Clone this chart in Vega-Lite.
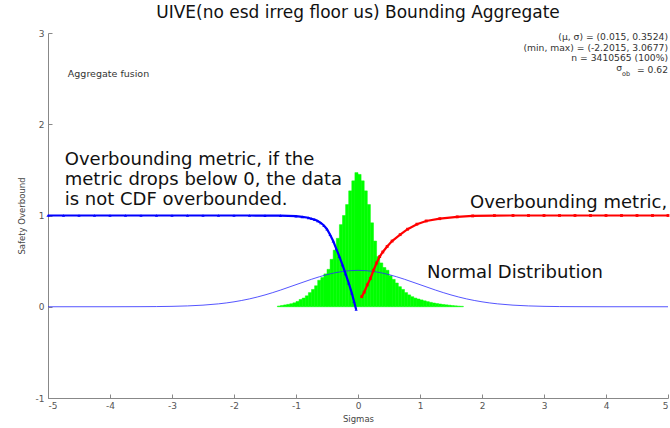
{
  "$schema": "https://vega.github.io/schema/vega-lite/v6.json",
  "width": 620,
  "height": 365,
  "autosize": "none",
  "padding": {"left": 48, "top": 33, "right": 2, "bottom": 30},
  "background": "white",
  "title": {
    "text": "UIVE(no esd irreg floor us) Bounding Aggregate",
    "font": "DejaVu Sans",
    "fontSize": 17,
    "fontWeight": "normal",
    "color": "#111111",
    "baseline": "alphabetic",
    "offset": -6,
    "anchor": "middle"
  },
  "config": {
    "view": {"stroke": null},
    "axis": {
      "labelFont": "DejaVu Sans",
      "labelFontSize": 9,
      "labelColor": "#555555",
      "titleFont": "DejaVu Sans",
      "titleFontSize": 8.5,
      "titleFontWeight": "normal",
      "titleColor": "#444444",
      "domainColor": "#888888",
      "tickColor": "#888888",
      "grid": false
    }
  },
  "layer": [
    {
      "data": {"values": [
        {"x": -1.30, "xe": -1.25, "y": 0.008},
        {"x": -1.25, "xe": -1.20, "y": 0.014},
        {"x": -1.20, "xe": -1.15, "y": 0.02},
        {"x": -1.15, "xe": -1.10, "y": 0.026},
        {"x": -1.10, "xe": -1.05, "y": 0.033},
        {"x": -1.05, "xe": -1.00, "y": 0.043},
        {"x": -1.00, "xe": -0.95, "y": 0.058},
        {"x": -0.95, "xe": -0.90, "y": 0.08},
        {"x": -0.90, "xe": -0.85, "y": 0.095},
        {"x": -0.85, "xe": -0.80, "y": 0.12},
        {"x": -0.80, "xe": -0.75, "y": 0.155},
        {"x": -0.75, "xe": -0.70, "y": 0.19},
        {"x": -0.70, "xe": -0.65, "y": 0.23},
        {"x": -0.65, "xe": -0.60, "y": 0.29},
        {"x": -0.60, "xe": -0.55, "y": 0.32},
        {"x": -0.55, "xe": -0.50, "y": 0.36},
        {"x": -0.50, "xe": -0.45, "y": 0.41},
        {"x": -0.45, "xe": -0.40, "y": 0.52},
        {"x": -0.40, "xe": -0.35, "y": 0.62},
        {"x": -0.35, "xe": -0.30, "y": 0.75},
        {"x": -0.30, "xe": -0.25, "y": 0.9},
        {"x": -0.25, "xe": -0.20, "y": 1.0},
        {"x": -0.20, "xe": -0.15, "y": 1.12},
        {"x": -0.15, "xe": -0.10, "y": 1.27},
        {"x": -0.10, "xe": -0.05, "y": 1.38},
        {"x": -0.05, "xe": 0.00, "y": 1.47},
        {"x": 0.00, "xe": 0.05, "y": 1.45},
        {"x": 0.05, "xe": 0.10, "y": 1.38},
        {"x": 0.10, "xe": 0.15, "y": 1.27},
        {"x": 0.15, "xe": 0.20, "y": 1.12},
        {"x": 0.20, "xe": 0.25, "y": 0.92},
        {"x": 0.25, "xe": 0.30, "y": 0.72},
        {"x": 0.30, "xe": 0.35, "y": 0.55},
        {"x": 0.35, "xe": 0.40, "y": 0.48},
        {"x": 0.40, "xe": 0.45, "y": 0.43},
        {"x": 0.45, "xe": 0.50, "y": 0.40},
        {"x": 0.50, "xe": 0.55, "y": 0.34},
        {"x": 0.55, "xe": 0.60, "y": 0.30},
        {"x": 0.60, "xe": 0.65, "y": 0.26},
        {"x": 0.65, "xe": 0.70, "y": 0.22},
        {"x": 0.70, "xe": 0.75, "y": 0.19},
        {"x": 0.75, "xe": 0.80, "y": 0.155},
        {"x": 0.80, "xe": 0.85, "y": 0.13},
        {"x": 0.85, "xe": 0.90, "y": 0.11},
        {"x": 0.90, "xe": 0.95, "y": 0.095},
        {"x": 0.95, "xe": 1.00, "y": 0.085},
        {"x": 1.00, "xe": 1.05, "y": 0.075},
        {"x": 1.05, "xe": 1.10, "y": 0.065},
        {"x": 1.10, "xe": 1.15, "y": 0.056},
        {"x": 1.15, "xe": 1.20, "y": 0.048},
        {"x": 1.20, "xe": 1.25, "y": 0.041},
        {"x": 1.25, "xe": 1.30, "y": 0.035},
        {"x": 1.30, "xe": 1.35, "y": 0.03},
        {"x": 1.35, "xe": 1.40, "y": 0.025},
        {"x": 1.40, "xe": 1.45, "y": 0.021},
        {"x": 1.45, "xe": 1.50, "y": 0.017},
        {"x": 1.50, "xe": 1.55, "y": 0.013},
        {"x": 1.55, "xe": 1.60, "y": 0.01},
        {"x": 1.60, "xe": 1.65, "y": 0.007},
        {"x": 1.65, "xe": 1.70, "y": 0.005}
      ]},
      "mark": {"type": "bar", "color": "#00ff00", "stroke": "#00ff00", "strokeWidth": 0.5},
      "encoding": {
        "x": {
          "field": "x", "type": "quantitative",
          "scale": {"domain": [-5, 5], "nice": false, "zero": false},
          "axis": {
            "title": "Sigmas",
            "values": [-5, -4, -3, -2, -1, 0, 1, 2, 3, 4, 5],
            "labelExpr": "'' + datum.value",
            "tickSize": -4,
            "labelPadding": 7,
            "titlePadding": 4
          }
        },
        "x2": {"field": "xe"},
        "y": {
          "field": "y", "type": "quantitative",
          "scale": {"domain": [-1, 3], "nice": false, "zero": false},
          "axis": {
            "title": "Safety Overbound",
            "values": [-1, 0, 1, 2, 3],
            "labelExpr": "'' + datum.value",
            "tickSize": -4,
            "labelPadding": 8,
            "titlePadding": 9
          }
        },
        "y2": {"datum": 0}
      }
    },
    {
      "data": {"values": [
        {"x": -5.0, "y": 0.0000015},
        {"x": -4.5, "y": 0.000016},
        {"x": -4.0, "y": 0.000134},
        {"x": -3.5, "y": 0.000873},
        {"x": -3.25, "y": 0.00203},
        {"x": -3.0, "y": 0.00443},
        {"x": -2.75, "y": 0.00909},
        {"x": -2.5, "y": 0.0175},
        {"x": -2.25, "y": 0.0317},
        {"x": -2.0, "y": 0.054},
        {"x": -1.75, "y": 0.0863},
        {"x": -1.5, "y": 0.1295},
        {"x": -1.25, "y": 0.1826},
        {"x": -1.0, "y": 0.242},
        {"x": -0.75, "y": 0.3011},
        {"x": -0.5, "y": 0.3521},
        {"x": -0.25, "y": 0.3867},
        {"x": 0.0, "y": 0.3989},
        {"x": 0.25, "y": 0.3867},
        {"x": 0.5, "y": 0.3521},
        {"x": 0.75, "y": 0.3011},
        {"x": 1.0, "y": 0.242},
        {"x": 1.25, "y": 0.1826},
        {"x": 1.5, "y": 0.1295},
        {"x": 1.75, "y": 0.0863},
        {"x": 2.0, "y": 0.054},
        {"x": 2.25, "y": 0.0317},
        {"x": 2.5, "y": 0.0175},
        {"x": 2.75, "y": 0.00909},
        {"x": 3.0, "y": 0.00443},
        {"x": 3.25, "y": 0.00203},
        {"x": 3.5, "y": 0.000873},
        {"x": 4.0, "y": 0.000134},
        {"x": 4.5, "y": 0.000016},
        {"x": 5.0, "y": 0.0000015}
      ]},
      "mark": {"type": "line", "color": "#2b2bff", "strokeWidth": 1, "opacity": 0.8, "interpolate": "monotone"},
      "encoding": {
        "x": {"field": "x", "type": "quantitative"},
        "y": {"field": "y", "type": "quantitative"}
      }
    },
    {
      "data": {"values": [
        {"x": -5.0, "y": 1.0}, {"x": -4.75, "y": 1.0}, {"x": -4.5, "y": 1.0}, {"x": -4.25, "y": 1.0},
        {"x": -4.0, "y": 1.0}, {"x": -3.75, "y": 1.0}, {"x": -3.5, "y": 1.0}, {"x": -3.25, "y": 1.0},
        {"x": -3.0, "y": 1.0}, {"x": -2.75, "y": 1.0}, {"x": -2.5, "y": 1.0}, {"x": -2.25, "y": 1.0},
        {"x": -2.0, "y": 1.0}, {"x": -1.75, "y": 1.0}, {"x": -1.5, "y": 0.999}, {"x": -1.25, "y": 0.998},
        {"x": -1.0, "y": 0.993}, {"x": -0.9, "y": 0.985}, {"x": -0.8, "y": 0.975}, {"x": -0.75, "y": 0.965},
        {"x": -0.7, "y": 0.955}, {"x": -0.65, "y": 0.94}, {"x": -0.6, "y": 0.92}, {"x": -0.55, "y": 0.89},
        {"x": -0.5, "y": 0.85}, {"x": -0.45, "y": 0.79}, {"x": -0.4, "y": 0.72}, {"x": -0.35, "y": 0.635},
        {"x": -0.3, "y": 0.55}, {"x": -0.25, "y": 0.46}, {"x": -0.2, "y": 0.36}, {"x": -0.15, "y": 0.26},
        {"x": -0.1, "y": 0.15}, {"x": -0.065, "y": 0.06}, {"x": -0.03, "y": -0.03}
      ]},
      "mark": {"type": "line", "color": "#0000ff", "strokeWidth": 2.2, "point": {"shape": "triangle-up", "size": 10, "color": "#0000ff", "filled": true}},
      "encoding": {
        "x": {"field": "x", "type": "quantitative"},
        "y": {"field": "y", "type": "quantitative"}
      }
    },
    {
      "data": {"values": [
        {"x": 0.06, "y": 0.11}, {"x": 0.1, "y": 0.16}, {"x": 0.15, "y": 0.24}, {"x": 0.2, "y": 0.31},
        {"x": 0.25, "y": 0.4}, {"x": 0.3, "y": 0.48}, {"x": 0.35, "y": 0.55}, {"x": 0.4, "y": 0.6},
        {"x": 0.47, "y": 0.66}, {"x": 0.55, "y": 0.72}, {"x": 0.68, "y": 0.79}, {"x": 0.8, "y": 0.85},
        {"x": 0.95, "y": 0.905}, {"x": 1.1, "y": 0.94}, {"x": 1.32, "y": 0.965}, {"x": 1.6, "y": 0.985},
        {"x": 1.85, "y": 0.995}, {"x": 2.2, "y": 0.999}, {"x": 2.5, "y": 1.0}, {"x": 2.75, "y": 1.0},
        {"x": 3.0, "y": 1.0}, {"x": 3.25, "y": 1.0}, {"x": 3.5, "y": 1.0}, {"x": 3.75, "y": 1.0},
        {"x": 4.0, "y": 1.0}, {"x": 4.25, "y": 1.0}, {"x": 4.5, "y": 1.0}, {"x": 4.75, "y": 1.0}, {"x": 5.0, "y": 1.0}
      ]},
      "mark": {"type": "line", "color": "#ff0000", "strokeWidth": 2.2, "point": {"shape": "square", "size": 8, "color": "#ff0000", "filled": true}},
      "encoding": {
        "x": {"field": "x", "type": "quantitative"},
        "y": {"field": "y", "type": "quantitative"}
      }
    },
    {
      "data": {"values": [
        {"x": -4.73, "y": 1.611, "label": "Overbounding metric, if the"},
        {"x": -4.73, "y": 1.392, "label": "metric drops below 0, the data"},
        {"x": -4.73, "y": 1.173, "label": "is not CDF overbounded."},
        {"x": 1.806, "y": 1.14, "label": "Overbounding metric,"},
        {"x": 1.113, "y": 0.373, "label": "Normal Distribution"}
      ]},
      "mark": {"type": "text", "align": "left", "baseline": "middle", "font": "DejaVu Sans", "fontSize": 18, "color": "#111111"},
      "encoding": {
        "x": {"field": "x", "type": "quantitative"},
        "y": {"field": "y", "type": "quantitative"},
        "text": {"field": "label"}
      }
    },
    {
      "data": {"values": [
        {"x": -4.68, "y": 2.553, "label": "Aggregate fusion"}
      ]},
      "mark": {"type": "text", "align": "left", "baseline": "middle", "font": "DejaVu Sans", "fontSize": 9.5, "color": "#333333"},
      "encoding": {
        "x": {"field": "x", "type": "quantitative"},
        "y": {"field": "y", "type": "quantitative"},
        "text": {"field": "label"}
      }
    },
    {
      "data": {"values": [
        {"x": 5.0, "y": 2.955, "label": "(μ, σ) = (0.015, 0.3524)"},
        {"x": 5.0, "y": 2.838, "label": "(min, max) = (-2.2015, 3.0677)"},
        {"x": 5.0, "y": 2.722, "label": "n = 3410565 (100%)"},
        {"x": 5.0, "y": 2.6, "label": "= 0.62"},
        {"x": 4.258, "y": 2.612, "label": "σ"}
      ]},
      "mark": {"type": "text", "align": "right", "baseline": "middle", "font": "DejaVu Sans", "fontSize": 9.2, "color": "#333333"},
      "encoding": {
        "x": {"field": "x", "type": "quantitative"},
        "y": {"field": "y", "type": "quantitative"},
        "text": {"field": "label"}
      }
    },
    {
      "data": {"values": [
        {"x": 4.26, "y": 2.55, "label": "ob"}
      ]},
      "mark": {"type": "text", "align": "left", "baseline": "middle", "font": "DejaVu Sans", "fontSize": 6.5, "color": "#333333"},
      "encoding": {
        "x": {"field": "x", "type": "quantitative"},
        "y": {"field": "y", "type": "quantitative"},
        "text": {"field": "label"}
      }
    }
  ]
}
